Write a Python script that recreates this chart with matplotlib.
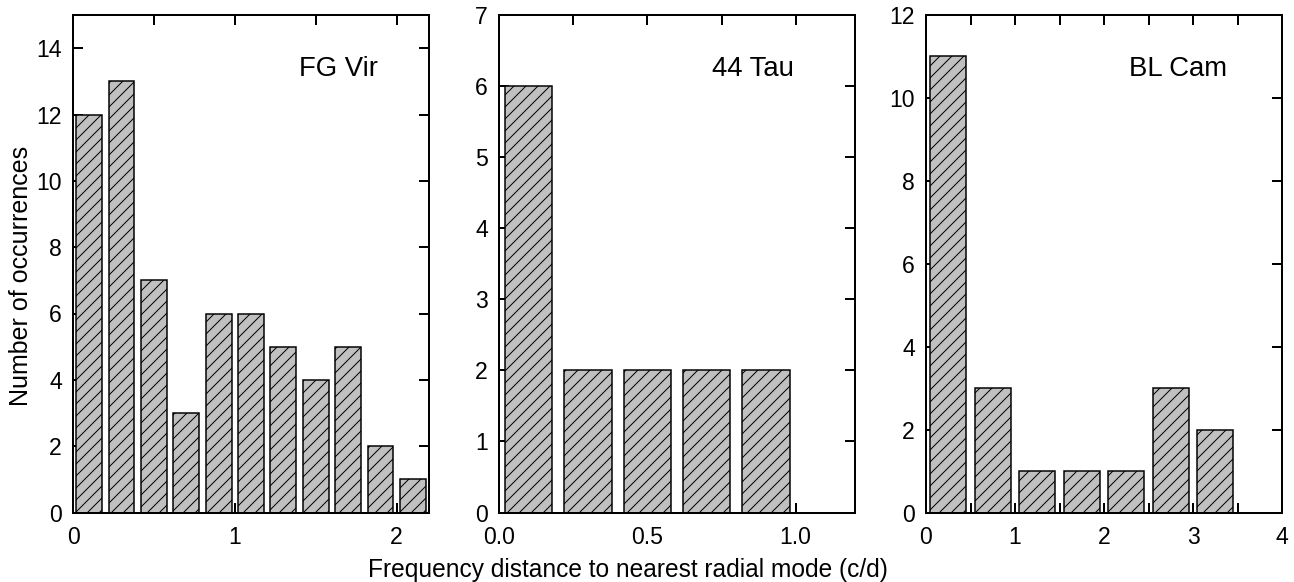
import matplotlib
matplotlib.use("Agg")
import matplotlib.pyplot as plt
from matplotlib.ticker import MultipleLocator, NullFormatter

plt.rcParams["font.family"] = ["Liberation Sans", "DejaVu Sans"]
plt.rcParams["hatch.linewidth"] = 1.0

# Histogram counts per frequency-distance bin (bin centres in c/d)
fg_vir_centres = [0.1, 0.3, 0.5, 0.7, 0.9, 1.1, 1.3, 1.5, 1.7, 1.9, 2.1]
fg_vir_counts = [12, 13, 7, 3, 6, 6, 5, 4, 5, 2, 1]

tau44_centres = [0.1, 0.3, 0.5, 0.7, 0.9]
tau44_counts = [6, 2, 2, 2, 2]

bl_cam_centres = [0.25, 0.75, 1.25, 1.75, 2.25, 2.75, 3.25]
bl_cam_counts = [11, 3, 1, 1, 1, 3, 2]

DPI = 72
W, H = 1294, 582
fig = plt.figure(figsize=(W / DPI, H / DPI), dpi=DPI)

panels = [
    # name, centres, counts, bin width, xlim, ylim, x major, x minor, y step, label x
    ("FG Vir", fg_vir_centres, fg_vir_counts, 0.2, 2.2, 15, 1, 0.5, 2, 0.634),
    ("44 Tau", tau44_centres, tau44_counts, 0.2, 1.2, 7, 0.5, 0.25, 1, 0.597),
    ("BL Cam", bl_cam_centres, bl_cam_counts, 0.5, 4, 12, 1, 0.5, 2, 0.570),
]
lefts = [73, 499, 926]

for (name, centres, counts, binw, xmax, ymax, xmaj, xmin_, ystep, tx), left in zip(panels, lefts):
    ax = fig.add_axes([left / W, 1 - 512.5 / H, 356 / W, 497.5 / H])
    ax.bar(centres, counts, width=0.8 * binw, color="#c0c0c0", edgecolor="black",
           linewidth=1.5, hatch="//")
    ax.set_xlim(0, xmax)
    ax.set_ylim(0, ymax)
    ax.set_axisbelow(True)
    ax.xaxis.set_major_locator(MultipleLocator(xmaj))
    ax.xaxis.set_minor_locator(MultipleLocator(xmin_))
    ax.xaxis.set_minor_formatter(NullFormatter())
    ax.yaxis.set_major_locator(MultipleLocator(ystep))
    if name == "44 Tau":
        ax.xaxis.set_major_formatter(lambda v, pos: f"{v:.1f}")
    else:
        ax.xaxis.set_major_formatter(lambda v, pos: f"{v:g}")
    ax.tick_params(which="both", direction="in", top=True, right=True,
                   length=10, width=2, labelsize=23)
    ax.tick_params(axis="x", pad=13)
    ax.tick_params(axis="y", pad=11)
    for spine in ax.spines.values():
        spine.set_linewidth(2)
    ax.text(tx, 0.892, name, transform=ax.transAxes, fontsize=27.5,
            ha="left", va="center")

fig.text(21 / W, 1 - 276 / H, "Number of occurrences", rotation=90,
         fontsize=25, ha="center", va="center")
fig.text(628 / W, 1 - 577 / H, "Frequency distance to nearest radial mode (c/d)",
         fontsize=24.5, ha="center", va="baseline")

fig.savefig("out.png", dpi=DPI)
